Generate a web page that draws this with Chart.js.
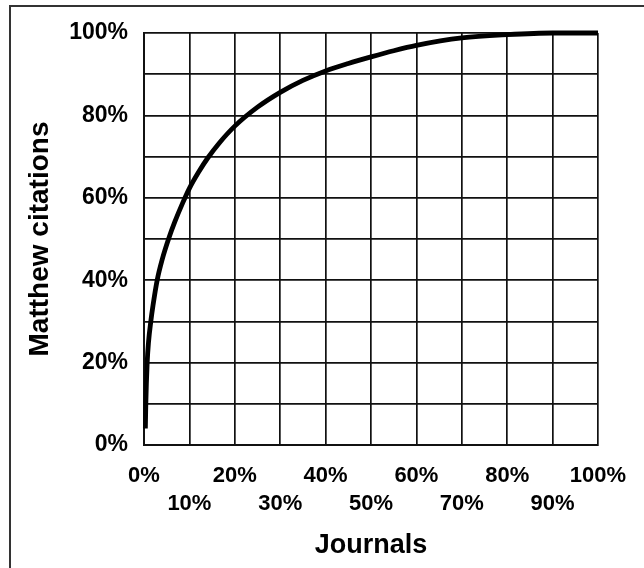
<!DOCTYPE html>
<html>
<head>
<meta charset="utf-8">
<script src="https://cdn.jsdelivr.net/npm/chart.js@4/dist/chart.umd.min.js"></script>
<style>
  html, body { margin: 0; padding: 0; background: #fff; }
  #wrap { width: 644px; height: 568px; position: relative; }
</style>
</head>
<body>
<div id="wrap"><canvas id="c" width="644" height="568"></canvas></div>
<script>
// Share of journals (x, %) vs cumulative share of Matthew citations (y, %)
const journalsPct = [0.3, 0.4, 0.7, 1.0, 1.5, 2.0, 2.9, 4.0, 5.5, 6.8, 8.5, 10, 12, 14, 16.5, 20, 25, 30, 35, 40, 45, 50, 55, 60, 70, 80, 90, 100];
const citationsPct = [4, 10, 20, 25, 30, 34, 40, 45, 50.3, 54.2, 58.7, 62.3, 66.2, 69.6, 73.2, 77.4, 82.0, 85.6, 88.5, 90.8, 92.6, 94.2, 95.7, 97.0, 98.8, 99.6, 100, 100];
const xTickValues = [0, 10, 20, 30, 40, 50, 60, 70, 80, 90, 100];
const yLabelValues = [0, 20, 40, 60, 80, 100];
const xTitle = 'Journals';
const yTitle = 'Matthew citations';

const points = journalsPct.map((x, i) => ({ x: x, y: citationsPct[i] }));
const FONT = "'Liberation Sans', Arial, Helvetica, sans-serif";

const framePlugin = {
  id: 'frame',
  beforeDraw(chart) {
    const ctx = chart.ctx;
    ctx.save();
    ctx.fillStyle = '#fff';
    ctx.fillRect(0, 0, chart.width, chart.height);
    ctx.restore();
  },
  afterDraw(chart) {
    const ctx = chart.ctx;
    ctx.save();
    ctx.strokeStyle = '#333';
    ctx.lineWidth = 2;
    ctx.beginPath();
    ctx.moveTo(10, chart.height);
    ctx.lineTo(10, 6);
    ctx.lineTo(chart.width, 6);
    ctx.stroke();
    ctx.restore();
  }
};

new Chart(document.getElementById('c'), {
  type: 'scatter',
  data: {
    datasets: [{
      data: points,
      showLine: true,
      borderColor: '#000',
      borderWidth: 4.8,
      pointRadius: 0,
      cubicInterpolationMode: 'monotone',
      fill: false,
      clip: false
    }]
  },
  options: {
    responsive: false,
    animation: false,
    devicePixelRatio: 1,
    layout: { padding: { top: 33, right: 46, left: 0, bottom: 0 } },
    plugins: { legend: { display: false }, tooltip: { enabled: false } },
    scales: {
      x: {
        type: 'linear',
        min: 0, max: 100,
        afterFit(scale) { scale.height = 123; },
        afterBuildTicks(scale) { scale.ticks = xTickValues.map(v => ({ value: v })); },
        grid: { color: '#111', lineWidth: 1.7, drawTicks: false },
        border: { display: true, color: '#111', width: 2 },
        ticks: {
          autoSkip: false, maxRotation: 0, minRotation: 0,
          padding: 16.5,
          color: '#000',
          font: { family: FONT, size: 22, weight: 'bold', lineHeight: 28 / 22 },
          callback: (v, i) => (i % 2 === 0 ? [v + '%', ''] : ['', v + '%'])
        },
        title: {
          display: true, text: xTitle, color: '#000',
          font: { family: FONT, size: 27, weight: 'bold', lineHeight: 1.2 },
          padding: { top: 0, bottom: 6.5 }
        }
      },
      y: {
        type: 'linear',
        min: 0, max: 100,
        afterFit(scale) { scale.width = 144; },
        grid: { color: '#111', lineWidth: 1.7, drawTicks: false },
        border: { display: true, color: '#111', width: 2 },
        ticks: {
          stepSize: 10, autoSkip: false,
          padding: 16,
          color: '#000',
          font: { family: FONT, size: 23, weight: 'bold' },
          callback: v => (yLabelValues.includes(v) ? v + '%' : '')
        },
        title: {
          display: true, text: yTitle, color: '#000',
          font: { family: FONT, size: 28, weight: 'bold', lineHeight: 1.2 },
          padding: { top: 23, bottom: 0 }
        }
      }
    }
  },
  plugins: [framePlugin]
});
</script>
</body>
</html>
